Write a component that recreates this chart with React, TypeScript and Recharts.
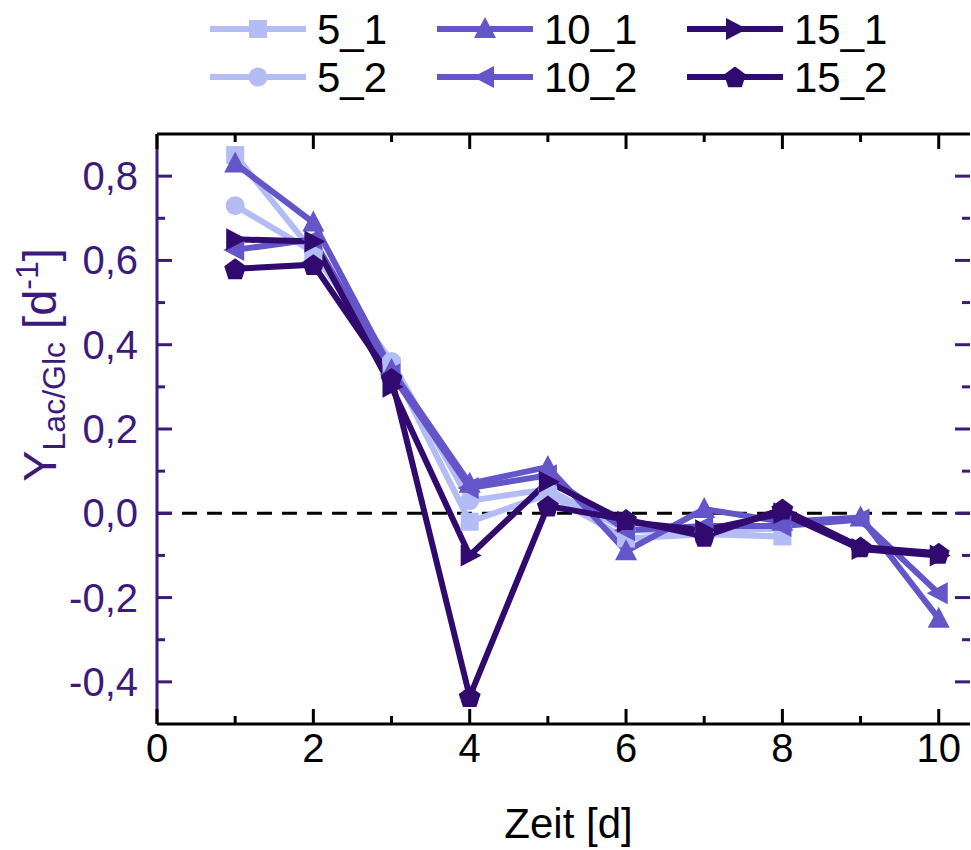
import { LineChart, Line, XAxis, YAxis, ReferenceLine, Legend } from 'recharts'

const days = [1, 2, 3, 4, 5, 6, 7, 8, 9, 10]
const y5_1 = [0.85, 0.62, 0.35, -0.02, 0.045, -0.06, -0.05, -0.055, null, null]
const y5_2 = [0.73, 0.62, 0.36, 0.03, 0.057, -0.04, -0.045, -0.035, null, null]
const y10_1 = [0.83, 0.69, 0.34, 0.07, 0.11, -0.09, 0.01, -0.02, -0.01, -0.25]
const y10_2 = [0.625, 0.65, 0.33, 0.06, 0.09, -0.04, -0.03, -0.03, -0.015, -0.19]
const y15_1 = [0.65, 0.645, 0.3, -0.1, 0.075, -0.02, -0.04, 0.0, -0.085, -0.1]
const y15_2 = [0.58, 0.59, 0.32, -0.435, 0.017, -0.015, -0.055, 0.01, -0.08, -0.095]

const xTicks = [0, 1, 2, 3, 4, 5, 6, 7, 8, 9, 10]
const xMajor = [0, 2, 4, 6, 8, 10]
const yTicks = [-0.4, -0.3, -0.2, -0.1, 0, 0.1, 0.2, 0.3, 0.4, 0.5, 0.6, 0.7, 0.8]
const yMajor = [-0.4, -0.2, 0, 0.2, 0.4, 0.6, 0.8]

const LIGHT = '#b3bcf4'
const MID = '#6455c8'
const DARK = '#300a6e'
const PURPLE = '#3c1a7a'
const FONT = '"Liberation Sans", Arial, sans-serif'

const series = [
  { key: 's5_1', name: '5_1', values: y5_1, color: LIGHT, shape: 'square' },
  { key: 's5_2', name: '5_2', values: y5_2, color: LIGHT, shape: 'circle' },
  { key: 's10_1', name: '10_1', values: y10_1, color: MID, shape: 'up' },
  { key: 's10_2', name: '10_2', values: y10_2, color: MID, shape: 'left' },
  { key: 's15_1', name: '15_1', values: y15_1, color: DARK, shape: 'right' },
  { key: 's15_2', name: '15_2', values: y15_2, color: DARK, shape: 'pentagon' },
]

const data = days.map((d, i) => {
  const row: any = { day: d }
  series.forEach((s) => {
    row[s.key] = s.values[i]
  })
  return row
})

const Marker = ({ shape, cx, cy, color }: any) => {
  if (shape === 'square')
    return <rect x={cx - 9} y={cy - 9} width={18} height={18} fill={color} />
  if (shape === 'circle') return <circle cx={cx} cy={cy} r={9.5} fill={color} />
  let pts: number[][] = []
  if (shape === 'up') pts = [[0, -12], [11, 9], [-11, 9]]
  if (shape === 'left') pts = [[-12, 0], [9, -11], [9, 11]]
  if (shape === 'right') pts = [[12, 0], [-9, -11], [-9, 11]]
  if (shape === 'pentagon')
    pts = [0, 1, 2, 3, 4].map((k) => {
      const a = -Math.PI / 2 + (k * 2 * Math.PI) / 5
      return [11.5 * Math.cos(a), 11.5 * Math.sin(a) + 1]
    })
  return (
    <polygon
      points={pts.map((p) => `${cx + p[0]},${cy + p[1]}`).join(' ')}
      fill={color}
    />
  )
}

const renderDot = (s: any) => (p: any) => {
  if (p.cy == null || p.value == null) return <g key={`${s.key}-${p.index}`} />
  return (
    <Marker key={`${s.key}-${p.index}`} shape={s.shape} cx={p.cx} cy={p.cy} color={s.color} />
  )
}

const legendCols = [210, 437, 687]
const legendRows = [29, 77]

const renderLegend = () => (
  <svg width={971} height={110} style={{ display: 'block' }}>
    {series.map((s, i) => {
      const x0 = legendCols[Math.floor(i / 2)]
      const y0 = legendRows[i % 2]
      return (
        <g key={s.key}>
          <line x1={x0} x2={x0 + 96} y1={y0} y2={y0} stroke={s.color} strokeWidth={6} />
          <Marker shape={s.shape} cx={x0 + 48} cy={y0} color={s.color} />
          <text
            x={x0 + 107}
            y={y0 + 15}
            fontSize={42}
            fontFamily={FONT}
            fill="#000"
          >
            {s.name}
          </text>
        </g>
      )
    })}
  </svg>
)

const fmt = (v: number) => v.toFixed(1).replace('.', ',')

const LeftTick = (props: any) => {
  const { x, y, payload } = props
  const major = yMajor.includes(payload.value)
  const ax = x + 19
  return (
    <g>
      <line x1={ax} x2={ax + (major ? 15 : 8)} y1={y} y2={y} stroke={PURPLE} strokeWidth={3} />
      {major && (
        <text x={x} y={y + 14} textAnchor="end" fontSize={40} fontFamily={FONT} fill={PURPLE}>
          {fmt(payload.value)}
        </text>
      )}
    </g>
  )
}

const RightTick = (props: any) => {
  const { x, y, payload } = props
  const major = yMajor.includes(payload.value)
  return (
    <line x1={x} x2={x - (major ? 15 : 8)} y1={y} y2={y} stroke={PURPLE} strokeWidth={3} />
  )
}

const BottomTick = (props: any) => {
  const { x, y, payload } = props
  const major = xMajor.includes(payload.value)
  const ay = y - 8
  return (
    <g>
      <line x1={x} x2={x} y1={ay} y2={ay - (major ? 15 : 8)} stroke="#000" strokeWidth={3} />
      {major && (
        <text x={x} y={y + 30} textAnchor="middle" fontSize={40} fontFamily={FONT} fill="#000">
          {payload.value}
        </text>
      )}
    </g>
  )
}

const TopTick = (props: any) => {
  const { x, y, payload } = props
  const major = xMajor.includes(payload.value)
  return <line x1={x} x2={x} y1={y} y2={y + (major ? 15 : 8)} stroke="#000" strokeWidth={3} />
}

const YTitle = () => (
  <text
    transform="translate(56, 365) rotate(-90)"
    textAnchor="middle"
    fill={PURPLE}
    fontSize={47}
    fontFamily={FONT}
  >
    Y
    <tspan fontSize={32} dy={9}>
      Lac/Glc
    </tspan>
    <tspan dy={-9}> [d</tspan>
    <tspan fontSize={32} dy={-18}>
      -1
    </tspan>
    <tspan dy={18}>]</tspan>
  </text>
)

export default function App() {
  return (
    <div style={{ position: 'absolute', left: 0, top: 0, width: 971, height: 850, background: '#fff' }}>
      <LineChart
        width={971}
        height={850}
        data={data}
        margin={{ top: 133, right: 0, bottom: 0, left: 0 }}
      >
        <XAxis
          xAxisId="b"
          dataKey="day"
          type="number"
          domain={[0, 10.4]}
          ticks={xTicks}
          interval={0}
          allowDataOverflow
          height={126}
          tickSize={0}
          tickMargin={8}
          tickLine={false}
          tick={<BottomTick />}
          axisLine={{ stroke: '#000', strokeWidth: 3 }}
          label={{
            value: 'Zeit [d]',
            position: 'insideBottom',
            offset: 12,
            dx: 5,
            fontSize: 42,
            fontFamily: FONT,
            fill: '#000',
          }}
        />
        <XAxis
          xAxisId="t"
          orientation="top"
          dataKey="day"
          type="number"
          domain={[0, 10.4]}
          ticks={xTicks}
          interval={0}
          allowDataOverflow
          height={1}
          tickSize={0}
          tickMargin={0}
          tickLine={false}
          tick={<TopTick />}
          axisLine={{ stroke: '#000', strokeWidth: 3 }}
        />
        <YAxis
          yAxisId="l"
          type="number"
          domain={[-0.5, 0.9]}
          ticks={yTicks}
          interval={0}
          allowDataOverflow
          width={157}
          tickSize={0}
          tickMargin={19}
          tickLine={false}
          tick={<LeftTick />}
          axisLine={{ stroke: PURPLE, strokeWidth: 3 }}
          label={{ content: () => <YTitle /> }}
        />
        <YAxis
          yAxisId="r"
          orientation="right"
          type="number"
          domain={[-0.5, 0.9]}
          ticks={yTicks}
          interval={0}
          allowDataOverflow
          width={1}
          tickSize={0}
          tickMargin={0}
          tickLine={false}
          tick={<RightTick />}
          axisLine={false}
        />
        <ReferenceLine
          xAxisId="b"
          yAxisId="l"
          y={0}
          stroke="#000"
          strokeWidth={3}
          strokeDasharray="15 10"
        />
        <Legend
          layout="horizontal"
          verticalAlign="middle"
          content={renderLegend}
          wrapperStyle={{ position: 'absolute', left: 0, top: 0, width: 971, height: 110 }}
        />
        {series.map((s) => (
          <Line
            key={s.key}
            xAxisId="b"
            yAxisId="l"
            dataKey={s.key}
            name={s.name}
            stroke={s.color}
            strokeWidth={6}
            dot={renderDot(s)}
            activeDot={false}
            connectNulls={false}
            isAnimationActive={false}
          />
        ))}
      </LineChart>
    </div>
  )
}
